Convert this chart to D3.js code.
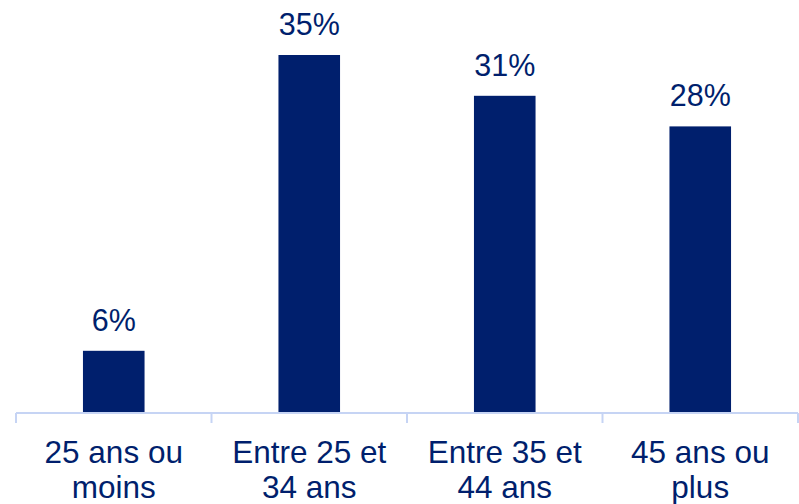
<!DOCTYPE html>
<html><head><meta charset="utf-8">
<script src="https://cdn.jsdelivr.net/npm/d3@7"></script>
<style>html,body{margin:0;padding:0;background:#fff;}svg{display:block;}</style>
</head><body>
<svg id="c" width="799" height="504"></svg>
<script>
const categories = ["25 ans ou moins", "Entre 25 et 34 ans", "Entre 35 et 44 ans", "45 ans ou plus"];
const labelLines = [["25 ans ou", "moins"], ["Entre 25 et", "34 ans"], ["Entre 35 et", "44 ans"], ["45 ans ou", "plus"]];
const values = [6, 35, 31, 28];
const valueLabels = ["6%", "35%", "31%", "28%"];

const svg = d3.select("#c");
const navy = "#001f6d";
const axisColor = "#c6d4f4";
const font = "'Liberation Sans', Arial, sans-serif";

const x = d3.scaleBand().domain(categories).range([16, 798]).padding(0);
const xb = d3.scaleBand().domain(categories).range([16, 798]).paddingInner(0.685).paddingOuter(0.3425);
const y = d3.scaleLinear().domain([0, 35]).range([412, 55]);

svg.append("g").selectAll("rect").data(values).join("rect")
  .attr("x", (d, i) => xb(categories[i]))
  .attr("width", xb.bandwidth())
  .attr("y", d => y(d))
  .attr("height", d => y(0) - y(d))
  .attr("fill", navy);

// axis
const ax = svg.append("g").attr("transform", "translate(0,413)")
  .call(d3.axisBottom(x).tickSize(0).tickFormat(""));
ax.select(".domain").remove();
ax.append("line").attr("x1", 16).attr("x2", 798).attr("stroke", axisColor).attr("stroke-width", 2);
const edges = categories.map(c => x(c)).concat([x.range()[1]]);
ax.selectAll(".edge").data(edges).join("line").attr("class", "edge")
  .attr("x1", d => d).attr("x2", d => d).attr("y1", 0).attr("y2", 10)
  .attr("stroke", axisColor).attr("stroke-width", 2);

// value labels
svg.append("g").selectAll("text").data(values).join("text")
  .attr("x", (d, i) => x(categories[i]) + x.bandwidth() / 2)
  .attr("y", d => y(d) - 20)
  .attr("text-anchor", "middle")
  .attr("font-family", font).attr("font-size", 30.5).attr("fill", navy)
  .text((d, i) => valueLabels[i]);

// category labels
const cl = svg.append("g").selectAll("text").data(categories).join("text")
  .attr("text-anchor", "middle")
  .attr("font-family", font).attr("font-size", 31.5).attr("fill", navy);
cl.each(function (c, i) {
  const t = d3.select(this);
  labelLines[i].forEach((ln, j) => {
    t.append("tspan").attr("x", x(c) + x.bandwidth() / 2).attr("y", 463 + j * 35).text(ln);
  });
});
</script>
</body></html>
